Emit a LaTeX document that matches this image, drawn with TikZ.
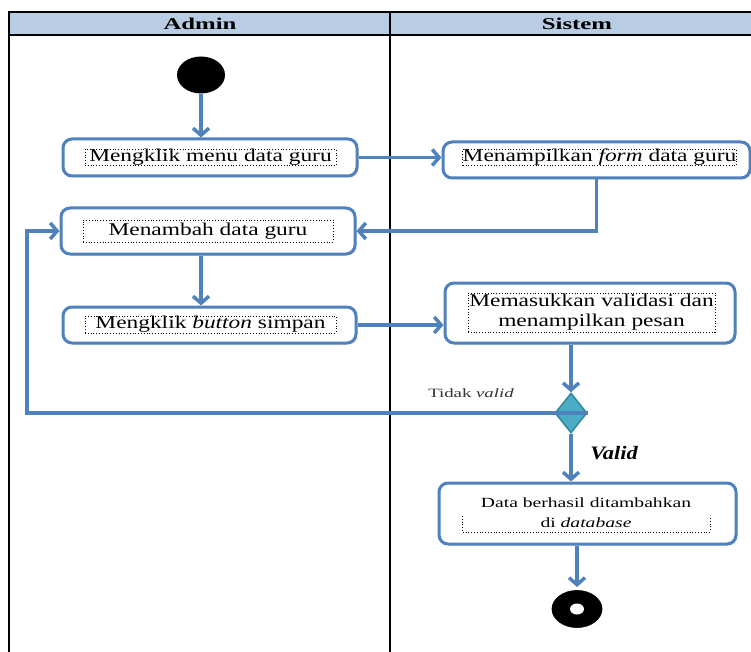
\documentclass[tikz,border=0pt]{standalone}
\usepackage{fontspec}
\setmainfont{Liberation Serif}[
  UprightFont={Liberation Serif},
  BoldFont={Liberation Serif Bold},
  ItalicFont={Liberation Serif Italic},
  BoldItalicFont={Liberation Serif Bold Italic}]
\usetikzlibrary{arrows.meta,shapes.geometric,shadows}

\definecolor{flowblue}{RGB}{79,129,189}
\definecolor{lanehead}{RGB}{184,204,228}
\definecolor{decfill}{RGB}{75,172,198}
\definecolor{decline}{RGB}{49,133,156}

% horizontally widened text
\newcommand{\wt}[2][1.3]{\scalebox{#1}[1]{#2}}

\begin{document}
\begin{tikzpicture}[x=1pt,y=-1pt,
  action/.style={draw=flowblue,line width=3pt,rounded corners=9pt,fill=white,
    drop shadow={opacity=0.25,shadow xshift=1.5pt,shadow yshift=-1.5pt}},
  caption/.style={draw=black,dotted,line width=0.8pt,inner sep=0pt,
    font=\fontsize{18}{20}\selectfont,align=center},
  flow/.style={draw=flowblue,line width=3.5pt,-{Straight Barb[length=7pt,width=16pt]}},
  lanetitle/.style={font=\bfseries\fontsize{16.5}{18}\selectfont}]

\useasboundingbox (0,0) rectangle (751,652);

% swimlane frame
\fill[lanehead] (9,12) rectangle (751,35);
\draw[line width=1.2pt] (751,12) -- (9,12) -- (9,652);
\draw[line width=1.2pt] (9,35) -- (751,35);
\draw[line width=1.2pt] (390,12) -- (390,652);
\node[lanetitle] (laneA) at (200,24) {\wt[1.5]{Admin}};
\node[lanetitle] (laneS) at (577,24) {\wt[1.5]{Sistem}};

% initial node
\node[ellipse,fill=black,minimum width=48pt,minimum height=37pt,inner sep=0pt] (start) at (201,75) {};

% actions, Admin lane
\node[action,minimum width=294pt,minimum height=37pt] (a1) at (210,157.5) {};
\node[caption,minimum width=251pt,minimum height=15pt] (a1t) at (210.5,157.5) {\wt{Mengklik menu data guru}};

\node[action,minimum width=294pt,minimum height=46pt] (a3) at (208,231) {};
\node[caption,minimum width=250pt,minimum height=22pt] (a3t) at (208,231) {\wt{Menambah data guru}};

\node[action,minimum width=293pt,minimum height=36pt] (a4) at (209.5,325) {};
\node[caption,minimum width=251pt,minimum height=17pt] (a4t) at (210.5,324.5) {\wt{Mengklik \textit{button} simpan}};

% actions, Sistem lane
\node[action,minimum width=307pt,minimum height=36pt] (a2) at (596.5,160) {};
\node[caption,minimum width=267pt,minimum height=15pt] (a2t) at (599.5,157.5) {\wt{Menampilkan \textit{form} data guru}};

\node[action,minimum width=290pt,minimum height=60pt] (a5) at (590,313) {};
\node[caption,minimum width=247pt,minimum height=39pt,font=\fontsize{18}{20}\selectfont] (a5t) at (591.5,312.5)
  {\wt{Memasukkan validasi dan}\\\wt{menampilkan pesan}};

\node[diamond,fill=decfill,draw=decline,line width=1.5pt,minimum width=32pt,minimum height=40pt,
  inner sep=0pt,aspect=0.8] (dec) at (571,413) {};

\node[action,minimum width=297pt,minimum height=61pt] (a6) at (587.5,513.5) {};
\node[font=\fontsize{14}{16}\selectfont] (a6l1) at (586,503) {\wt[1.4]{Data berhasil ditambahkan}};
\node[font=\fontsize{14}{16}\selectfont] (a6l2) at (586,523) {\wt[1.4]{di \textit{database}}};
\draw[dotted,line width=0.8pt] (462,516) -- (462,532) -- (710,532) -- (710,516);

% final node
\node[ellipse,fill=black,draw=white,line width=3pt,minimum width=54pt,minimum height=41pt,inner sep=0pt,
  drop shadow={opacity=0.2,shadow xshift=1pt,shadow yshift=-1.5pt}] (end) at (577,609) {};
\fill[white] (end.center) ellipse (7 and 5.5);

% guard labels
\node[font=\fontsize{12.7}{14}\selectfont,text=black!80] (gtv) at (471,393) {\wt[1.48]{Tidak \textit{valid}}};
\node[font=\bfseries\itshape\fontsize{19}{21}\selectfont] (gv) at (614,453) {\wt[1.18]{Valid}};

% control flow
\draw[flow] (start.south) -- (start.south |- a1.north);
\draw[flow] (a1.east) -- (a1.east -| a2.west);
\draw[flow] (a2.south) |- (a3.east);
\draw[flow] (a3.south -| start) -- (a4.north -| start);
\draw[flow] (a4.east) -- (a4.east -| a5.west);
\draw[flow] (a5.south -| dec) -- (dec.north);
\coordinate (back) at (27,413);
\draw[flow] (dec.east) -- (back) |- (a3.west);
\draw[flow] (dec.south) -- (dec.south |- a6.north);
\draw[flow] (a6.south -| end) -- (end.north);

\end{tikzpicture}
\end{document}
